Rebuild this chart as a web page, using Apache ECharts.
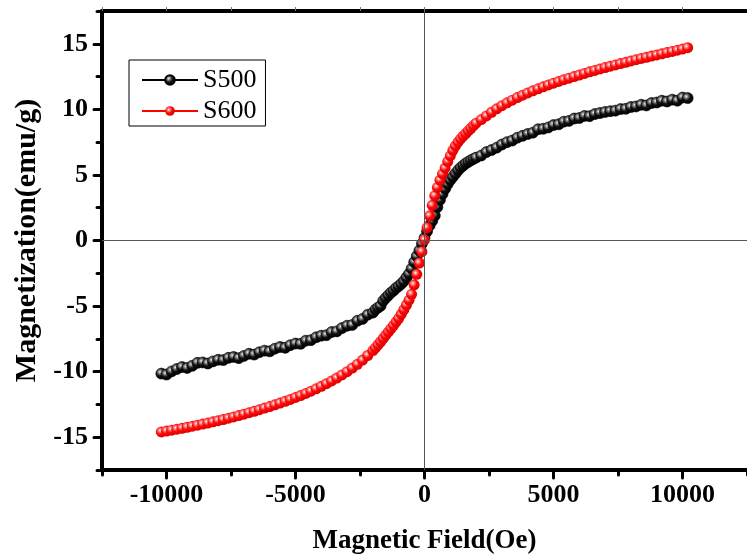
<!DOCTYPE html>
<html>
<head>
<meta charset="utf-8">
<script src="https://cdn.jsdelivr.net/npm/echarts@6/dist/echarts.min.js"></script>
<style>html,body{margin:0;padding:0;background:#fff;}#c{width:747px;height:560px;}</style>
</head>
<body>
<div id="c"></div>
<script>
const seriesNames = ['S500', 'S600'];
const fieldOe = [-10200,-10000,-9800,-9600,-9400,-9200,-9000,-8800,-8600,-8400,-8200,-8000,-7800,-7600,-7400,-7200,-7000,-6800,-6600,-6400,-6200,-6000,-5800,-5600,-5400,-5200,-5000,-4800,-4600,-4400,-4200,-4000,-3800,-3600,-3400,-3200,-3000,-2800,-2600,-2400,-2200,-2000,
-1900,-1800,-1700,-1600,-1500,-1400,-1300,-1200,-1100,-1000,-900,-800,-700,-600,-500,-400,-300,-200,-100,0,100,200,300,400,500,600,700,800,900,1000,1100,1200,1300,1400,1500,1600,1700,1800,1900,
2000,2200,2400,2600,2800,3000,3200,3400,3600,3800,4000,4200,4400,4600,4800,5000,5200,5400,5600,5800,6000,6200,6400,6600,6800,7000,7200,7400,7600,7800,8000,8200,8400,8600,8800,9000,9200,9400,9600,9800,10000,10200];
const s500 = [-10.15,-10.22,-9.98,-9.80,-9.65,-9.72,-9.55,-9.33,-9.30,-9.38,-9.22,-9.10,-9.12,-8.95,-8.88,-8.97,-8.80,-8.64,-8.70,-8.52,-8.40,-8.45,-8.25,-8.12,-8.18,-7.98,-7.86,-7.88,-7.64,-7.60,-7.38,-7.26,-7.22,-6.98,-6.93,-6.68,-6.50,-6.44,-6.12,-5.98,-5.66,-5.50,
-5.26,-5.12,-4.98,-4.60,-4.38,-4.18,-3.98,-3.82,-3.62,-3.48,-3.30,-3.10,-2.82,-2.55,-2.15,-1.65,-1.20,-0.78,-0.25,0.20,0.70,1.15,1.50,1.90,2.55,3.10,3.55,3.95,4.30,4.60,4.85,5.10,5.35,5.55,5.72,5.88,6.00,6.12,6.22,
6.32,6.48,6.74,6.90,7.08,7.32,7.50,7.62,7.84,7.98,8.12,8.22,8.48,8.52,8.62,8.80,8.86,9.06,9.12,9.30,9.34,9.50,9.48,9.64,9.72,9.80,9.86,9.90,10.02,10.04,10.18,10.22,10.35,10.30,10.48,10.52,10.66,10.60,10.74,10.66,10.90,10.86];
const s600 = [-14.60,-14.53,-14.46,-14.39,-14.32,-14.24,-14.16,-14.08,-14.00,-13.92,-13.83,-13.74,-13.65,-13.55,-13.45,-13.35,-13.24,-13.13,-13.02,-12.90,-12.78,-12.66,-12.53,-12.40,-12.26,-12.12,-11.97,-11.82,-11.66,-11.49,-11.31,-11.12,-10.92,-10.71,-10.49,-10.25,-10.00,-9.73,-9.44,-9.12,-8.77,-8.39,
-8.18,-7.95,-7.72,-7.47,-7.22,-6.97,-6.72,-6.47,-6.20,-5.93,-5.62,-5.27,-4.92,-4.55,-4.10,-3.38,-2.58,-1.72,-0.85,0.05,0.98,1.88,2.68,3.42,4.05,4.60,5.08,5.52,6.02,6.45,6.88,7.22,7.50,7.75,7.96,8.16,8.36,8.56,8.76,
8.95,9.22,9.50,9.78,10.04,10.28,10.50,10.70,10.90,11.08,11.25,11.41,11.57,11.72,11.86,12.00,12.13,12.26,12.38,12.50,12.62,12.74,12.86,12.97,13.08,13.19,13.29,13.39,13.49,13.59,13.69,13.79,13.88,13.97,14.06,14.15,14.24,14.33,14.42,14.51,14.60,14.70];
const xMajorTicks = [-10000, -5000, 0, 5000, 10000];
const xMinorTicks = [-12500, -7500, -2500, 2500, 7500, 12500];
const yMajorTicks = [-15, -10, -5, 0, 5, 10, 15];
const yMinorTicks = [-17.5, -12.5, -7.5, -2.5, 2.5, 7.5, 12.5, 17.5];
const xTitle = 'Magnetic Field(Oe)';
const yTitle = 'Magnetization(emu/g)';

const FONT = '"Liberation Serif","Times New Roman",serif';
function ball(stops) {
  return {type: 'radial', x: 0.38, y: 0.36, r: 0.62,
    colorStops: stops.map(s => ({offset: s[0], color: s[1]}))};
}
const blackBall = ball([[0, '#f4f4f4'], [0.22, '#8a8a8a'], [0.55, '#111'], [1, '#000']]);
const redBall = ball([[0, '#ffffff'], [0.22, '#ff8a8a'], [0.55, '#ff0a0a'], [1, '#e00000']]);
const plain = v => String(v);

const chart = echarts.init(document.getElementById('c'), null, {renderer: 'canvas'});
const xBase = {type: 'value', min: -12500, max: 12500, interval: 2500, splitLine: {show: false}};
const yBase = {type: 'value', min: -17.5, max: 17.5, interval: 2.5, splitLine: {show: false}};
const axisLine = {show: true, onZero: false, lineStyle: {color: '#000', width: 4, cap: 'round'}};
const hiddenLine = {show: false, onZero: false};
const option = {
  backgroundColor: '#fff',
  animation: false,
  grid: {left: 102, right: -5, top: 11, bottom: 90, containLabel: false},
  legend: {
    left: 129, top: 60, orient: 'vertical',
    data: seriesNames,
    itemWidth: 56, itemHeight: 12, itemGap: 5,
    padding: [7, 9, 2, 12],
    borderColor: '#000', borderWidth: 1, backgroundColor: '#fff',
    textStyle: {fontFamily: FONT, fontSize: 26, color: '#000', lineHeight: 26}
  },
  xAxis: [
    Object.assign({}, xBase, {
      position: 'bottom',
      axisLine: axisLine,
      axisTick: {show: true, customValues: xMajorTicks, length: 8, lineStyle: {color: '#000', width: 3, cap: 'round'}},
      axisLabel: {show: true, customValues: xMajorTicks, formatter: plain, margin: 12, fontFamily: FONT, fontWeight: 'bold', fontSize: 26, color: '#000'},
      name: xTitle, nameLocation: 'middle', nameGap: 58,
      nameTextStyle: {fontFamily: FONT, fontWeight: 'bold', fontSize: 27, color: '#000'}
    }),
    Object.assign({}, xBase, {
      position: 'bottom',
      axisLine: hiddenLine,
      axisTick: {show: true, customValues: xMinorTicks, length: 5, lineStyle: {color: '#000', width: 3, cap: 'round'}},
      axisLabel: {show: false}
    }),
    Object.assign({}, xBase, {
      position: 'top',
      axisLine: axisLine,
      axisTick: {show: true, length: 4, lineStyle: {color: '#777', width: 1}},
      axisLabel: {show: false}
    })
  ],
  yAxis: [
    Object.assign({}, yBase, {
      position: 'left',
      axisLine: axisLine,
      axisTick: {show: true, customValues: yMajorTicks, length: 8, lineStyle: {color: '#000', width: 3, cap: 'round'}},
      axisLabel: {show: true, customValues: yMajorTicks, formatter: plain, margin: 14, fontFamily: FONT, fontWeight: 'bold', fontSize: 26, color: '#000'},
      name: yTitle, nameLocation: 'middle', nameGap: 60,
      nameTextStyle: {fontFamily: FONT, fontWeight: 'bold', fontSize: 30, color: '#000'}
    }),
    Object.assign({}, yBase, {
      position: 'left',
      axisLine: hiddenLine,
      axisTick: {show: true, customValues: yMinorTicks, length: 5, lineStyle: {color: '#000', width: 3, cap: 'round'}},
      axisLabel: {show: false}
    })
  ],
  series: [
    {
      name: seriesNames[0], type: 'line', xAxisIndex: 0, yAxisIndex: 0,
      data: fieldOe.map((h, i) => [h, s500[i]]),
      symbol: 'circle', symbolSize: 11, showSymbol: true,
      lineStyle: {color: '#000', width: 1},
      itemStyle: {color: blackBall, borderColor: '#000', borderWidth: 0.6},
      markLine: {
        silent: true, symbol: 'none', label: {show: false},
        lineStyle: {color: '#555', width: 1, type: 'solid'},
        data: [{xAxis: 0}, {yAxis: 0}]
      },
      z: 2
    },
    {
      name: seriesNames[1], type: 'line', xAxisIndex: 0, yAxisIndex: 0,
      data: fieldOe.map((h, i) => [h, s600[i]]),
      symbol: 'circle', symbolSize: 11, showSymbol: true,
      lineStyle: {color: '#ff0000', width: 1},
      itemStyle: {color: redBall},
      z: 3
    }
  ]
};
chart.setOption(option);
</script>
</body>
</html>
